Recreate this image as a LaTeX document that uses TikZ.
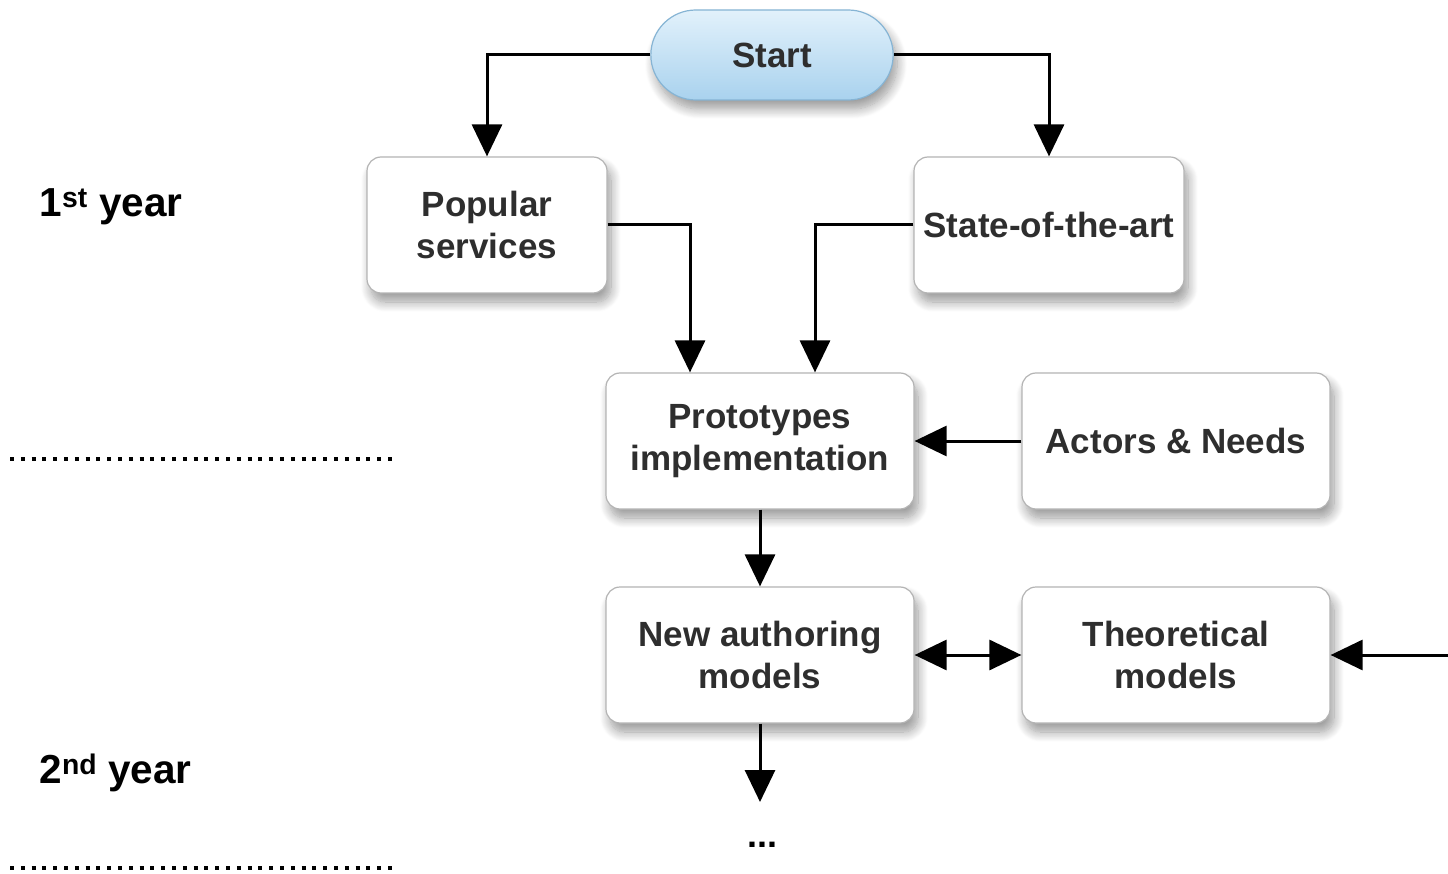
\documentclass[tikz,border=0pt]{standalone}
\usepackage{fontspec}
\setmainfont{Liberation Sans}
\usetikzlibrary{arrows.meta,shapes.misc,shadows.blur}
\definecolor{txt}{HTML}{2E2E2E}
\definecolor{boxline}{HTML}{B4B4B4}
\definecolor{starttop}{HTML}{E2F1FB}
\definecolor{startbot}{HTML}{A9D2EE}
\definecolor{startline}{HTML}{86B4D4}
\tikzset{
  softshadow/.style={blur shadow={shadow xshift=4pt, shadow yshift=-9pt, shadow blur radius=10pt, shadow blur steps=12, shadow opacity=40}},
  box/.style={draw=boxline, line width=1.2pt, fill=white, rounded corners=14pt,
    minimum width=#1, minimum height=136pt, align=center, text=txt,
    font=\fontsize{35}{42}\selectfont\bfseries, softshadow},
  box/.default=240pt,
  startbox/.style={rounded rectangle, draw=startline, line width=1.2pt,
    top color=starttop, bottom color=startbot, minimum width=249pt, minimum height=90pt,
    text=txt, font=\fontsize{35}{42}\selectfont\bfseries, softshadow},
  conn/.style={line width=3pt, -{Triangle[length=32pt,width=30pt]}},
  yearlbl/.style={anchor=west, font=\fontsize{40.5}{44}\selectfont\bfseries, text=black},
  sep/.style={line width=4pt, dash pattern=on 4pt off 6.8pt}
}
\begin{document}
\begin{tikzpicture}[x=1pt,y=-1pt]
\useasboundingbox (0,0) rectangle (1448,874);
\node[startbox] (start) at (772,55) {Start};
\node[box=240pt] (pop) at (487,225) {Popular\\services};
\node[box=270pt] (sota) at (1049,225) {State-of-the-art};
\node[box=308pt] (proto) at (760,441) {Prototypes\\implementation};
\node[box=308pt] (actors) at (1176,441) {Actors \& Needs};
\node[box=308pt] (newam) at (760,655) {New authoring\\models};
\node[box=308pt] (theo) at (1176,655) {Theoretical\\models};
\node[font=\fontsize{36}{40}\selectfont\bfseries] (dots) at (762,845) {...};
\coordinate (rightin) at (1450,655);
\coordinate (downend) at (760,802);

\draw[conn] (start.west) -| (pop.north);
\draw[conn] (start.east) -| (sota.north);
\draw[conn] (pop.east) -| (proto.north -| 690,0);
\draw[conn] (sota.west) -| (proto.north -| 815,0);
\draw[conn] (actors.west) -- (proto.east);
\draw[conn] (proto.south) -- (newam.north);
\draw[line width=3pt, {Triangle[length=32pt,width=30pt]}-{Triangle[length=32pt,width=30pt]}] (newam.east) -- (theo.west);
\draw[conn] (rightin) -- (theo.east);
\draw[conn] (newam.south) -- (downend);

\node[yearlbl] (y1) at (36,207) {1\textsuperscript{st} year};
\node[yearlbl] (y2) at (36,773) {2\textsuperscript{nd} year};
\coordinate (s1a) at (10,459);
\coordinate (s1b) at (398,459);
\coordinate (s2a) at (10,868);
\coordinate (s2b) at (398,868);
\draw[sep] (s1a) -- (s1b);
\draw[sep] (s2a) -- (s2b);
\end{tikzpicture}
\end{document}
